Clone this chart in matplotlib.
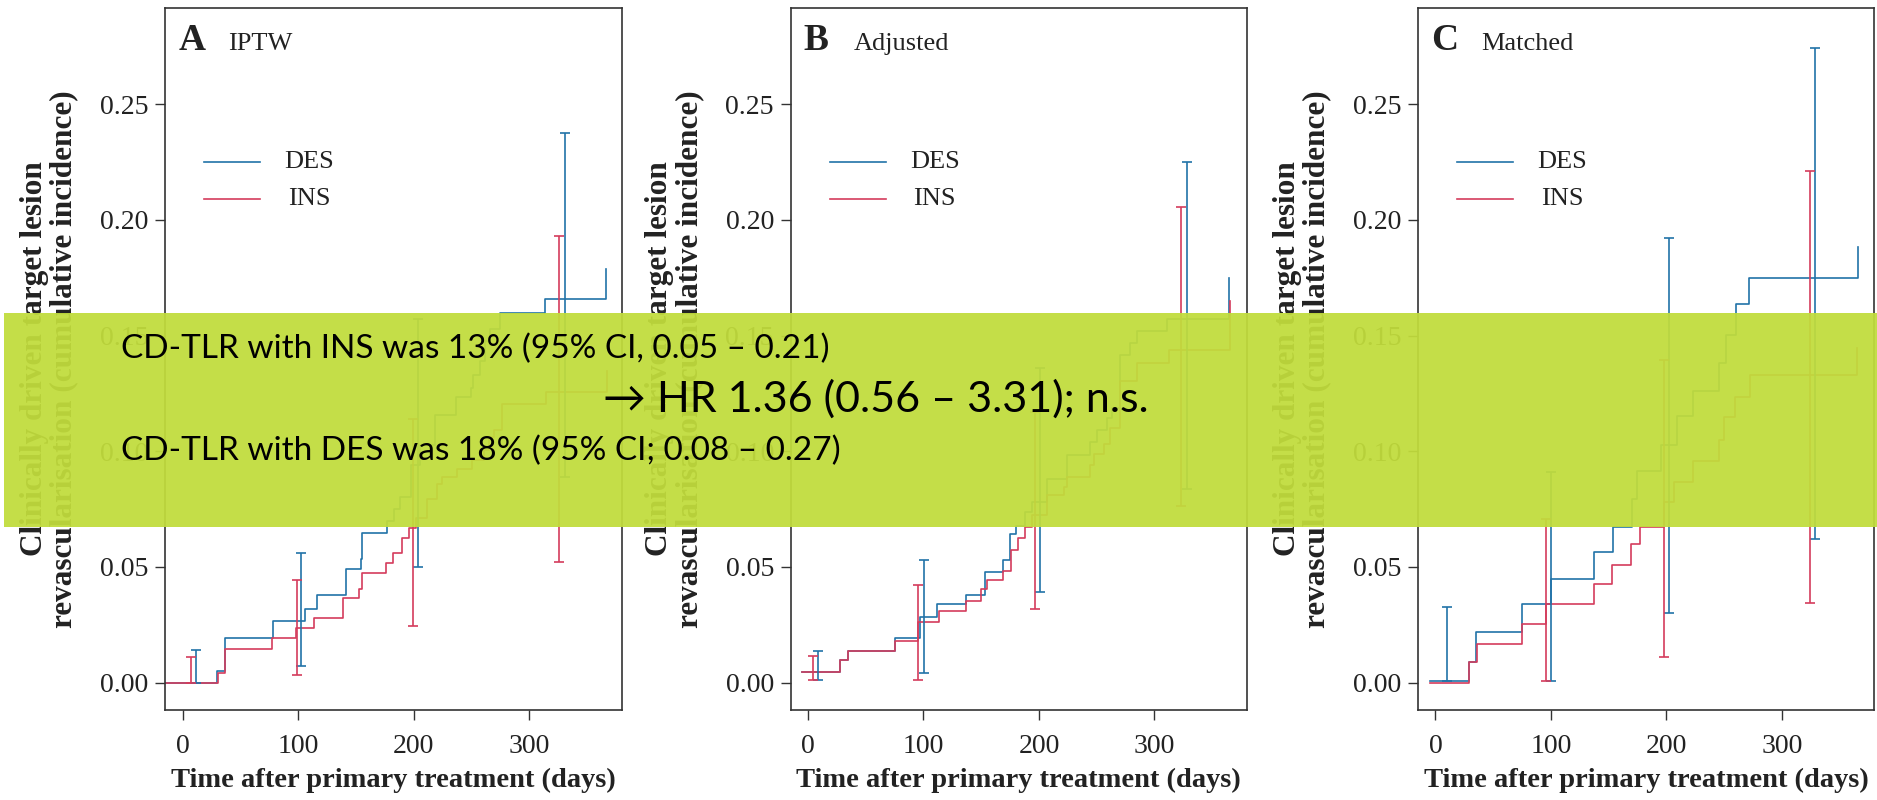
import matplotlib
matplotlib.use("Agg")
import matplotlib.pyplot as plt
from matplotlib.patches import Rectangle

# --- Cumulative incidence step curves (days, incidence) ---
# A: IPTW
a_des_t = [-16, 30.1, 36.5, 78.6, 106.3, 116.2, 141.7, 154.1, 155.2, 177.1, 182.8, 187.8, 197.9, 205.1,
           218.1, 236.9, 249.9, 251.4, 257.2, 261.5, 265.9, 274.5, 313.6, 366.6]
a_des_y = [0.0, 0.0052, 0.0193, 0.0265, 0.032, 0.0381, 0.0493, 0.0536, 0.0645, 0.070, 0.0751, 0.0802, 0.0939,
           0.1026, 0.1157, 0.1236, 0.1273, 0.1330, 0.1389, 0.1476, 0.1526, 0.1599, 0.1657, 0.1787]
a_ins_t = [-16, 30.8, 36.5, 77.2, 98.5, 114.1, 139.2, 153.0, 155.2, 176.4, 182.4, 189.5, 195.9, 201.9, 211.6,
           220.3, 224.6, 237.6, 250.7, 260.8, 265.1, 269.5, 276.7, 314.3, 367.5]
a_ins_y = [0.0, 0.0043, 0.0145, 0.0193, 0.0236, 0.028, 0.0364, 0.0406, 0.0475, 0.0516, 0.0559, 0.0623, 0.0667,
           0.071, 0.0794, 0.086, 0.089, 0.0925, 0.0961, 0.1004, 0.1062, 0.1091, 0.1203, 0.1254, 0.1345]

# B: Adjusted
b_des_t = [-5.3, 27.6, 34.3, 75, 97.3, 111.4, 137.2, 153.2, 169.1, 175.1, 179.7, 188.2, 194, 207, 224.4,
           244.5, 250.3, 259, 263.3, 270.5, 279.2, 285, 311, 364.4]
b_des_y = [0.0048, 0.0096, 0.0138, 0.0193, 0.0284, 0.0341, 0.0381, 0.048, 0.0529, 0.0642, 0.0678, 0.0737,
           0.078, 0.0881, 0.0983, 0.1041, 0.1091, 0.1142, 0.1186, 0.1417, 0.1468, 0.1519, 0.157, 0.175]
b_ins_t = [-5.3, 27.6, 34.3, 75, 95.5, 113.2, 137.2, 149.6, 154.6, 168.7, 176.2, 181.5, 188.2, 193.8, 207,
           221.4, 224.4, 244.5, 247.4, 256.1, 261.9, 270.5, 285, 312.4, 365]
b_ins_y = [0.0048, 0.0096, 0.0138, 0.0178, 0.0261, 0.0309, 0.0352, 0.0403, 0.0442, 0.0483, 0.0574, 0.0623,
           0.0671, 0.0725, 0.0809, 0.0845, 0.0889, 0.0939, 0.099, 0.1033, 0.1099, 0.1302, 0.1381, 0.1439, 0.165]

# C: Matched
c_des_t = [-4.5, 29.1, 35.4, 75.3, 100.2, 137.7, 154.0, 170.0, 174.9, 195.1, 209.0, 222.6, 245.7, 251.4,
           260.1, 271.2, 365.6]
c_des_y = [0.0009, 0.0091, 0.0219, 0.0338, 0.0449, 0.0565, 0.0674, 0.0794, 0.0913, 0.1029, 0.1152, 0.1261,
           0.1381, 0.1504, 0.1635, 0.175, 0.1884]
c_ins_t = [-4.5, 29.1, 36.0, 75.3, 95.4, 137.7, 153.3, 169.6, 176.9, 198.0, 206.6, 222.6, 245.7, 250.0,
           259.3, 272.6, 365.0]
c_ins_y = [0.0, 0.0091, 0.0168, 0.0255, 0.034, 0.0425, 0.0509, 0.0601, 0.0674, 0.078, 0.0867, 0.0957,
           0.1048, 0.1147, 0.1236, 0.133, 0.1447]

# --- 95% CI bars (day, lower, upper) ---
a_des_ci_t = [11.7, 102.7, 203.7, 331.3]
a_des_ci_lo = [0.0, 0.007, 0.05, 0.0888]
a_des_ci_hi = [0.0142, 0.0562, 0.157, 0.2373]
a_ins_ci_t = [7.1, 99.2, 199.1, 325.8]
a_ins_ci_lo = [0.0, 0.0033, 0.0246, 0.0522]
a_ins_ci_hi = [0.0113, 0.0442, 0.114, 0.1932]

b_des_ci_t = [8.8, 100.8, 200.9, 327.9]
b_des_ci_lo = [0.0012, 0.0041, 0.0393, 0.0838]
b_des_ci_hi = [0.0138, 0.0529, 0.136, 0.2251]
b_ins_ci_t = [4.6, 95.5, 196.3, 322.9]
b_ins_ci_lo = [0.0012, 0.0012, 0.032, 0.0765]
b_ins_ci_hi = [0.0117, 0.042, 0.117, 0.2054]

c_des_ci_t = [10.4, 100.2, 201.9, 328.5]
c_des_ci_lo = [0.0009, 0.0009, 0.0301, 0.062]
c_des_ci_hi = [0.0328, 0.091, 0.1922, 0.2743]
c_ins_ci_t = [96.0, 197.7, 324.0]
c_ins_ci_lo = [0.0009, 0.0113, 0.0345]
c_ins_ci_hi = [0.0707, 0.1396, 0.2212]

panel_letters = ["A", "B", "C"]
panel_names = ["IPTW", "Adjusted", "Matched"]
group_labels = ["DES", "INS"]
x_ticks = [0, 100, 200, 300]
y_ticks = [0.00, 0.05, 0.10, 0.15, 0.20, 0.25]

overlay_lines = ["CD-TLR with INS was 13% (95% CI, 0.05 \u2013 0.21)",
                 "\u2192 HR 1.36 (0.56 \u2013 3.31); n.s.",
                 "CD-TLR with DES was 18% (95% CI; 0.08 \u2013 0.27)"]

DES_COL = "#2173A8"
INS_COL = "#D43C5C"
SERIF = "Liberation Serif"

panels = [
    (a_des_t, a_des_y, a_ins_t, a_ins_y, a_des_ci_t, a_des_ci_lo, a_des_ci_hi, a_ins_ci_t, a_ins_ci_lo, a_ins_ci_hi),
    (b_des_t, b_des_y, b_ins_t, b_ins_y, b_des_ci_t, b_des_ci_lo, b_des_ci_hi, b_ins_ci_t, b_ins_ci_lo, b_ins_ci_hi),
    (c_des_t, c_des_y, c_ins_t, c_ins_y, c_des_ci_t, c_des_ci_lo, c_des_ci_hi, c_ins_ci_t, c_ins_ci_lo, c_ins_ci_hi),
]
lefts = [0.0881, 0.4212, 0.7555]

fig = plt.figure(figsize=(18.77, 8), dpi=100)

for i, (dt, dy, it, iy, dct, dcl, dch, ict, icl, ich) in enumerate(panels):
    ax = fig.add_axes([lefts[i], 0.1125, 0.2431, 0.8775])
    ax.step(dt, dy, where="post", color=DES_COL, lw=1.2)
    ax.step(it, iy, where="post", color=INS_COL, lw=1.2)
    for t, lo, hi, col in [(dct, dcl, dch, DES_COL), (ict, icl, ich, INS_COL)]:
        mid = [(a + b) / 2 for a, b in zip(lo, hi)]
        err = [(b - a) / 2 for a, b in zip(lo, hi)]
        ax.errorbar(t, mid, yerr=err, fmt="none", ecolor=col, elinewidth=1.2, capsize=3.5, capthick=1.2)

    ax.set_xlim(-15, 380)
    ax.set_ylim(-0.0118, 0.2915)
    ax.set_xticks(x_ticks)
    ax.set_yticks(y_ticks)
    ax.set_yticklabels([f"{v:.2f}" for v in y_ticks])
    ax.tick_params(direction="out", length=7, width=1, color="#333333", labelsize=20,
                   labelcolor="#222222", pad=5)
    ax.tick_params(axis="x", pad=10)
    for lab in ax.get_xticklabels() + ax.get_yticklabels():
        lab.set_family(SERIF)
    for sp in ax.spines.values():
        sp.set_color("#333333")
        sp.set_linewidth(1.2)

    ax.set_xlabel("Time after primary treatment (days)", family=SERIF, fontweight="bold",
                  fontsize=20.5, color="#222222")
    ax.xaxis.set_label_coords(0.5, -0.082)
    ax.text(-0.254, 0.5, "Clinically driven target lesion\nrevascularisation (cumulative incidence)",
            transform=ax.transAxes, rotation=90, ha="center", va="center", multialignment="center",
            family=SERIF, fontweight="bold", fontsize=22.5, linespacing=1.02, color="#222222")

    ax.text(0.028, 0.94, panel_letters[i], transform=ax.transAxes, family=SERIF, fontweight="bold",
            fontsize=27, va="baseline", color="#222222")
    ax.text(0.138, 0.94, panel_names[i], transform=ax.transAxes, family=SERIF,
            fontsize=19, va="baseline", color="#222222")

    # legend
    for lab, col, yy in [(group_labels[0], DES_COL, 0.7806), (group_labels[1], INS_COL, 0.7279)]:
        ax.plot([0.0855, 0.208], [yy, yy], transform=ax.transAxes, color=col, lw=1.2)
        ax.text(0.316, yy, lab, transform=ax.transAxes, ha="center", va="center",
                family=SERIF, fontsize=19, color="#222222")

# green overlay box with summary text
fig.add_artist(Rectangle((0.0021, 0.34125), 0.9979, 0.2675, transform=fig.transFigure,
                         facecolor="#C1DC3C", edgecolor="none", alpha=0.94, zorder=10))
fig.text(0.0645, 0.5525, overlay_lines[0], family=["Lato", "DejaVu Sans"], fontsize=24,
         va="baseline", zorder=11)
fig.text(0.3213, 0.485, overlay_lines[1], family=["Lato", "DejaVu Sans"], fontsize=31,
         va="baseline", zorder=11)
fig.text(0.0645, 0.425, overlay_lines[2], family=["Lato", "DejaVu Sans"], fontsize=24,
         va="baseline", zorder=11)

fig.savefig("out.png", dpi=100)
